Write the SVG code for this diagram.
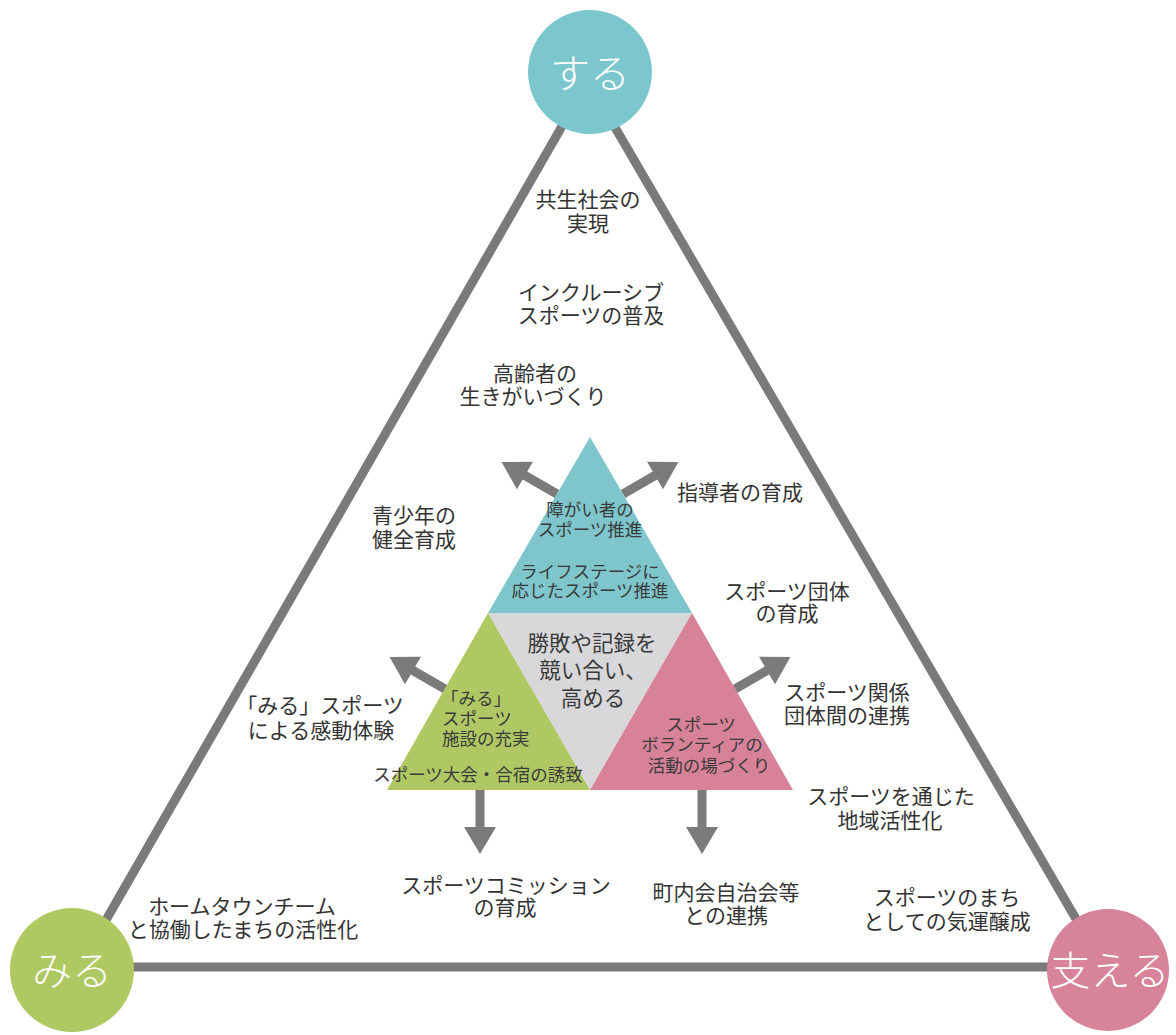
<svg xmlns="http://www.w3.org/2000/svg" width="1176" height="1035" viewBox="0 0 1176 1035">
<style>
.t{font-family:"Noto Sans CJK JP","Noto Sans CJK SC",sans-serif;font-size:21px;fill:#333;text-anchor:middle}
.s{font-family:"Noto Sans CJK JP","Noto Sans CJK SC",sans-serif;font-size:17.5px;fill:#3a3a3a;text-anchor:middle}
.m{font-family:"Noto Sans CJK JP","Noto Sans CJK SC",sans-serif;font-size:21.5px;fill:#3a3a3a;text-anchor:middle}
.c{font-family:"Noto Sans CJK JP","Noto Sans CJK SC",sans-serif;font-size:40px;font-weight:300;fill:#fff;text-anchor:middle}
.line{fill:none;stroke:#7a7a7a;stroke-width:9;stroke-linejoin:miter}
.arrow{fill:#7b7b7b}
</style>
<defs>
<path id="arr" d="M0,-4.5 H37 V-16 L64,0 L37,16 V4.5 H0 Z"/>
</defs>
<rect width="1176" height="1035" fill="#fff"/>
<g id="connectors">
<polygon class="line" points="588,81 79,967 1104,967"/>
<use href="#arr" class="arrow" transform="translate(557,494) rotate(-150)"/>
<use href="#arr" class="arrow" transform="translate(623,494) rotate(-30)"/>
<use href="#arr" class="arrow" transform="translate(445,689) rotate(-150)"/>
<use href="#arr" class="arrow" transform="translate(735,689) rotate(-30)"/>
<use href="#arr" class="arrow" transform="translate(480,790) rotate(90)"/>
<use href="#arr" class="arrow" transform="translate(702,790) rotate(90)"/>
</g>
<g id="inner-triangle">
<polygon points="590,437 488,613 692,613" fill="#7ec6cc"/>
<polygon points="488,613 692,613 590,790" fill="#d8d8da"/>
<polygon points="488,613 387,790 590,790" fill="#afc863"/>
<polygon points="692,613 590,790 793,790" fill="#d8829a"/>
</g>
<g id="node-suru"><circle cx="590" cy="72" r="62" fill="#7cc7cd"/><text class="c" x="590" y="88">する</text></g>
<g id="node-miru"><circle cx="72" cy="970" r="62" fill="#aec862"/><text class="c" x="72" y="985">みる</text></g>
<g id="node-sasaeru"><circle cx="1108" cy="970" r="61" fill="#d7839a"/><text class="c" x="1110" y="985">支える</text></g>
<g id="inner-top">
<text class="s"><tspan x="590" y="516">障がい者の</tspan><tspan x="590" y="536">スポーツ推進</tspan></text>
<text class="s"><tspan x="590" y="578">ライフステージに</tspan><tspan x="590" y="597">応じたスポーツ推進</tspan></text>
</g>
<g id="inner-center">
<text class="m"><tspan x="592" y="651">勝敗や記録を</tspan><tspan x="593" y="678">競い合い、</tspan><tspan x="593" y="706">高める</tspan></text>
</g>
<g id="inner-left">
<text class="s" style="text-anchor:start"><tspan x="441" y="705">「みる」</tspan><tspan x="442" y="725">スポーツ</tspan><tspan x="442" y="745">施設の充実</tspan></text>
<text class="s" x="478" y="781">スポーツ大会・合宿の誘致</text>
</g>
<g id="inner-right">
<text class="s"><tspan x="701" y="731">スポーツ</tspan><tspan x="702" y="751">ボランティアの</tspan><tspan x="709" y="772">活動の場づくり</tspan></text>
</g>
<g id="label-kyosei"><text class="t"><tspan x="588" y="207">共生社会の</tspan><tspan x="588" y="231">実現</tspan></text></g>
<g id="label-inclusive"><text class="t"><tspan x="591" y="300">インクルーシブ</tspan><tspan x="591" y="323">スポーツの普及</tspan></text></g>
<g id="label-koreisha"><text class="t"><tspan x="535" y="381">高齢者の</tspan><tspan x="533" y="404">生きがいづくり</tspan></text></g>
<g id="label-seishonen"><text class="t"><tspan x="414" y="523">青少年の</tspan><tspan x="414" y="547">健全育成</tspan></text></g>
<g id="label-shidosha"><text class="t" x="740" y="500">指導者の育成</text></g>
<g id="label-dantai"><text class="t"><tspan x="787" y="599">スポーツ団体</tspan><tspan x="787" y="621">の育成</tspan></text></g>
<g id="label-miru-sports"><text class="t"><tspan x="320" y="713">「みる」スポーツ</tspan><tspan x="321" y="738">による感動体験</tspan></text></g>
<g id="label-kankei"><text class="t"><tspan x="847" y="700">スポーツ関係</tspan><tspan x="847" y="723">団体間の連携</tspan></text></g>
<g id="label-chiiki"><text class="t"><tspan x="891" y="804">スポーツを通じた</tspan><tspan x="890" y="828">地域活性化</tspan></text></g>
<g id="label-hometown"><text class="t"><tspan x="242" y="914">ホームタウンチーム</tspan><tspan x="243" y="937">と協働したまちの活性化</tspan></text></g>
<g id="label-commission"><text class="t"><tspan x="506" y="893">スポーツコミッション</tspan><tspan x="505" y="915">の育成</tspan></text></g>
<g id="label-chonaikai"><text class="t"><tspan x="726" y="900">町内会自治会等</tspan><tspan x="726" y="923">との連携</tspan></text></g>
<g id="label-machi"><text class="t"><tspan x="947" y="905">スポーツのまち</tspan><tspan x="947" y="929">としての気運醸成</tspan></text></g>
</svg>
